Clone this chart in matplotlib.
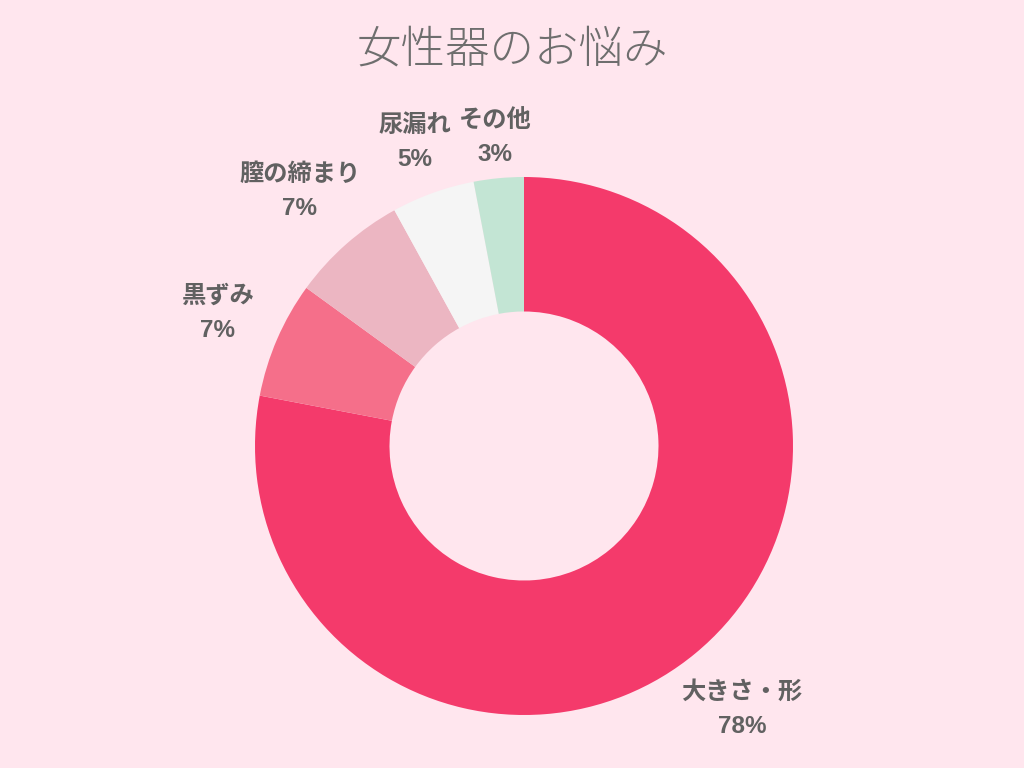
import numpy as np
import matplotlib
matplotlib.use('Agg')
import matplotlib.pyplot as plt

plt.rcParams['font.family'] = ['Noto Sans CJK JP', 'DejaVu Sans']

# --------------------------------------------------------------------------- #
labels = ['大きさ・形', '黒ずみ', '膣の締まり', '尿漏れ', 'その他']
values = [78, 7, 7, 5, 3]
colors = ['#F43A6B', '#F56F8A', '#ECB6C2', '#F5F5F5', '#C3E5D4']
label_dist = [1.27, 1.24, 1.26, 1.20, 1.15]

bg = '#FFE6EE'
text_c = '#616161'

fig = plt.figure(figsize=(10.24, 7.68), dpi=100, facecolor=bg)
ax = fig.add_axes([0, 0, 1, 1])
ax.set_facecolor(bg)

R = 269.0  # px per unit
wedges, _ = ax.pie(values, colors=colors, startangle=90, counterclock=False,
                   radius=1.0, wedgeprops=dict(width=0.5, linewidth=0))

for w, lab, v, d in zip(wedges, labels, values, label_dist):
    ang = np.deg2rad((w.theta1 + w.theta2) / 2)
    x, y = d * np.cos(ang), d * np.sin(ang)
    ax.text(x, y, f'{lab}\n{v}%', ha='center', va='center', fontsize=17.5,
            fontweight='bold', color=text_c, linespacing=1.6,
            family=['Liberation Sans', 'Noto Sans CJK JP'])

ax.set_xlim(-524 / R, 500 / R)
ax.set_ylim(-322 / R, 446 / R)
ax.set_aspect('equal')
ax.axis('off')

fig.text(0.5, 1 - 50 / 768, '女性器のお悩み', ha='center', va='center',
         fontsize=32, color='#6e6e6e', fontweight='light')

plt.savefig('out.png', dpi=100, facecolor=bg)
plt.close()
